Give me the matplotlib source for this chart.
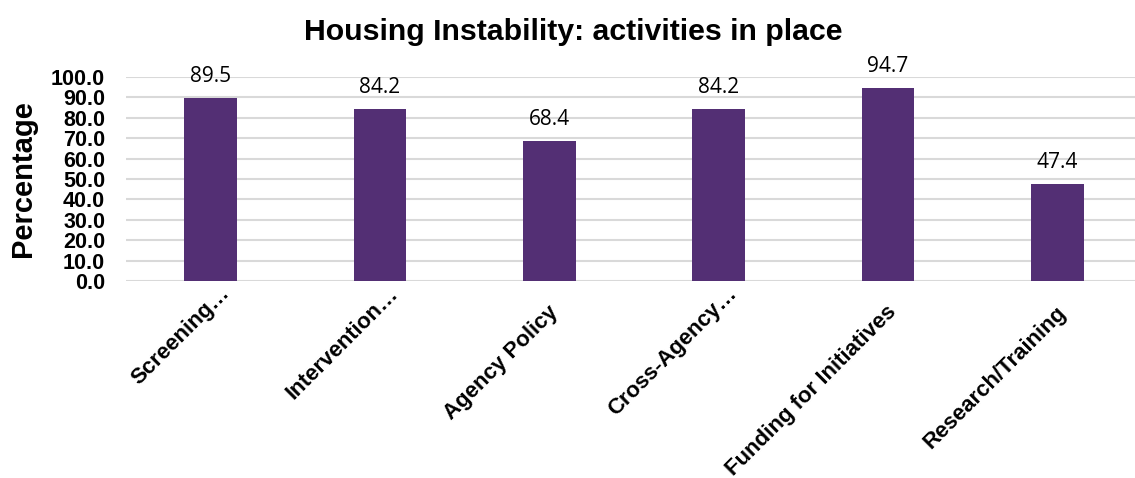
import matplotlib
matplotlib.use('Agg')
import matplotlib.pyplot as plt
import matplotlib.transforms as mtransforms

categories = ['Screening…', 'Intervention…', 'Agency Policy', 'Cross-Agency…',
              'Funding for Initiatives', 'Research/Training']
values = [89.5, 84.2, 68.4, 84.2, 94.7, 47.4]
y_ticks = [0, 10, 20, 30, 40, 50, 60, 70, 80, 90, 100]

BAR_COLOR = '#532F74'
GRID_COLOR = '#D9D9D9'

plt.rcParams['font.family'] = ['Liberation Sans', 'DejaVu Sans']

fig = plt.figure(figsize=(11.35, 4.78), dpi=100)
# axes spans past the right edge like the original export
ax = fig.add_axes([126 / 1135, (478 - 281) / 478, (1135 - 126) / 1135, (281 - 77) / 478])

x = list(range(len(categories)))
ax.bar(x, values, width=0.31, color=BAR_COLOR, zorder=3)

for xi, v in zip(x, values):
    ax.annotate(f'{v:.1f}', xy=(xi, v), xytext=(0, 8), textcoords='offset points',
                ha='center', va='bottom', fontsize=15, family=['Open Sans', 'DejaVu Sans'],
                color='#000000')

ax.set_xlim(-0.5, 5.5 - 7 / 169.4)
ax.set_ylim(0, 100)
ax.set_yticks(y_ticks)
ax.set_yticklabels([f'{t:.1f}' for t in y_ticks], fontsize=15.5, fontweight='bold')
ax.yaxis.grid(True, color=GRID_COLOR, linewidth=1.5, zorder=0)
ax.set_axisbelow(True)
ax.tick_params(axis='both', length=0)
ax.tick_params(axis='y', pad=15)

ax.set_xticks(x)
ax.set_xticklabels(categories, rotation=45, ha='right', rotation_mode='anchor',
                   fontsize=16, fontweight='bold')
# truncated labels sit a bit further right in the original
for lbl in ax.get_xticklabels():
    if lbl.get_text().endswith('…'):
        dx, dy = 8, 3
    else:
        dx, dy = -2, -16
    shift = mtransforms.ScaledTranslation(dx / 100, dy / 100, fig.dpi_scale_trans)
    lbl.set_transform(lbl.get_transform() + shift)

for s in ax.spines.values():
    s.set_visible(False)

ax.set_ylabel('Percentage', fontsize=21, fontweight='bold')
ax.yaxis.set_label_coords(-89 / 1009, 0.5)

fig.text(573 / 1135, 1 - 32 / 478, 'Housing Instability: activities in place',
         ha='center', va='center', fontsize=21.8, fontweight='bold')

fig.savefig('out.png', dpi=100)
